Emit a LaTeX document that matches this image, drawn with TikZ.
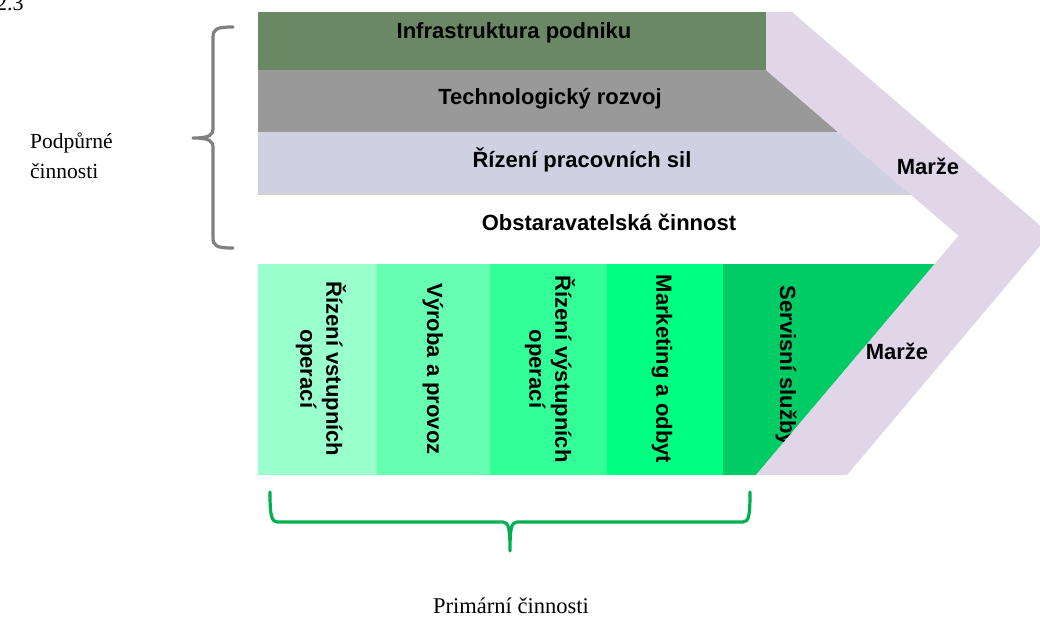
\documentclass[tikz,border=0pt]{standalone}
\usepackage{fontspec}
\setmainfont{Liberation Serif}
\newfontfamily\lsans{Liberation Sans}
\definecolor{infra}{RGB}{107,136,101}
\definecolor{tech}{RGB}{153,153,153}
\definecolor{hrc}{RGB}{208,208,227}
\definecolor{chev}{RGB}{224,214,232}
\definecolor{pA}{RGB}{153,255,204}
\definecolor{pB}{RGB}{102,255,178}
\definecolor{pC}{RGB}{51,255,153}
\definecolor{pD}{RGB}{0,255,128}
\definecolor{pE}{RGB}{0,204,102}
\definecolor{bracegray}{RGB}{128,128,128}
\definecolor{bracegreen}{RGB}{0,176,80}
\begin{document}
\begin{tikzpicture}[x=1pt,y=-1pt,
  lbl/.style={font=\lsans\bfseries\fontsize{22}{26}\selectfont, text=black, inner sep=0pt},
  vlbl/.style={lbl, rotate=-90, align=center},
  serif/.style={font=\fontsize{21.5}{29.5}\selectfont, inner sep=0pt},
  bracestroke/.style={line width=3.2pt, line cap=round, line join=round}]
\useasboundingbox (0,0) rectangle (1040,624);
% support bands
\fill[infra] (258,12) rectangle (766,70);
\fill[tech] (258,70) -- (766,70) -- (838,132) -- (258,132) -- cycle;
\fill[hrc] (258,132) -- (838,132) -- (910,194) -- (258,194) -- cycle;
\draw[line width=1.2pt, black!18] (258,194) -- (910,194);
% primary columns
\fill[pA] (258,264) rectangle (377,475);
\fill[pB] (377,264) rectangle (490,475);
\fill[pC] (490,264) rectangle (607,475);
\fill[pD] (607,264) rectangle (723,475);
\fill[pE] (723,264) -- (935,264) -- (756,475) -- (723,475) -- cycle;
% texts
\node[lbl] (infraT) at (514,33) {Infrastruktura podniku};
\node[lbl] (techT) at (550,99) {Technologický rozvoj};
\node[lbl] (hrT) at (582,160) {Řízení pracovních sil};
\node[lbl] (procT) at (609,222) {Obstaravatelská činnost};
\node[vlbl] (inT) at (321,369) {Řízení vstupních\\operací};
\node[vlbl] (opsT) at (433,369) {Výroba a provoz};
\node[vlbl] (outT) at (550,369) {Řízení výstupních\\operací};
\node[vlbl] (mktT) at (662,369) {Marketing a odbyt};
\node[vlbl] (svcT) at (786,366) {Servisní služby};
% margin chevron
\fill[chev] (766,12) -- (792,12) -- (1050,234) -- (847,475) -- (756,475) -- (958.5,235.8) -- (766,70) -- cycle;
\node[lbl] (m1) at (928,166) {Marže};
\node[lbl] (m2) at (897,351) {Marže};
% braces
\draw[bracestroke, bracegray] (233,27) .. controls (216,27) and (213,29) .. (213,38) -- (213,128)
  .. controls (213,135) and (210,138) .. (193,138)
  .. controls (210,138) and (213,141) .. (213,148) -- (213,237)
  .. controls (213,246) and (216,248) .. (233,248);
\draw[bracestroke, bracegreen] (270,492) .. controls (270,515) and (271,522) .. (278,522) -- (503,522)
  .. controls (509,522) and (510,530) .. (510,551)
  .. controls (510,530) and (511,522) .. (517,522) -- (743,522)
  .. controls (749,522) and (750,515) .. (750,492);
% side labels
\node[serif, align=left, anchor=north west] (supT) at (30,133) {Podpůrné\\činnosti};
\node[serif, font=\fontsize{22.5}{27}\selectfont] (primT) at (511,606) {Primární činnosti};
\node[font=\fontsize{22}{26}\selectfont, anchor=base west, inner sep=0pt] (figT) at (-4,10) {2.3};
\end{tikzpicture}
\end{document}
